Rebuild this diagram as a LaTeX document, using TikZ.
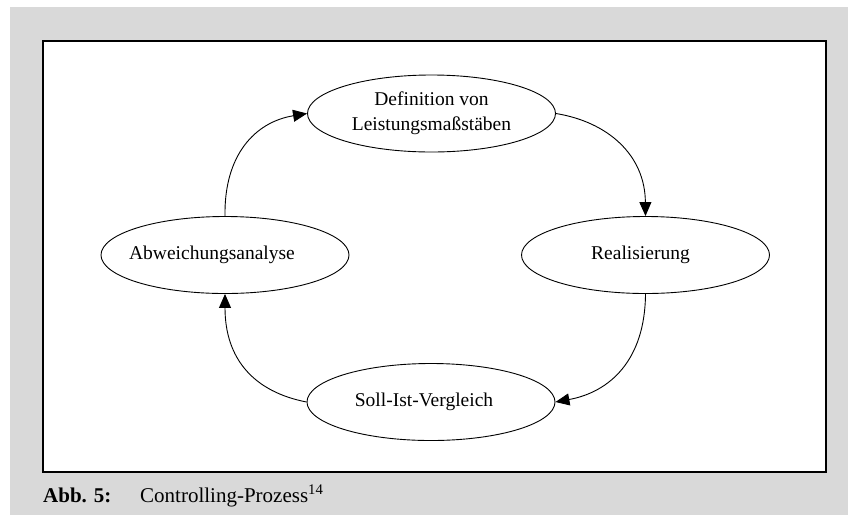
\documentclass[tikz,border=0pt]{standalone}
\usepackage{fontspec}
\setmainfont{Liberation Serif}
\usetikzlibrary{shapes.geometric,arrows.meta}
\definecolor{bggray}{RGB}{217,217,217}
\newcommand{\tshift}[2]{\hspace*{#1}#2}
\begin{document}
\begin{tikzpicture}[x=1pt,y=-1pt,
  proc/.style={draw=black,line width=0.9pt,ellipse,minimum width=248pt,minimum height=77pt,
    inner sep=0pt,font=\fontsize{19.5}{25}\selectfont,fill=white},
  flow/.style={line width=0.9pt,-{Triangle[length=14pt,width=12pt]}},
  captext/.style={anchor=base west,inner sep=0pt,font=\fontsize{21}{25}\selectfont}]
\useasboundingbox (0,0) rectangle (848,515);
\fill[bggray] (10,7) rectangle (848,515);
\draw[line width=1.8pt,fill=white] (43,41) rectangle (826,472);
\node[proc,align=center] (def) at (431.5,113.5) {Definition von\\Leistungsmaßstäben};
\node[proc] (real) at (645.5,255) {\tshift{-10pt}{Realisierung}};
\node[proc] (soll) at (431,402) {\tshift{-14pt}{Soll-Ist-Vergleich}};
\node[proc] (abw) at (225,255) {\tshift{-26pt}{Abweichungsanalyse}};
\draw[flow] (abw.north) .. controls (224,155) and (255,122) .. (def.west);
\draw[flow] (def.east) .. controls (608,122) and (645,155) .. (real.north);
\draw[flow] (real.south) .. controls (645,360) and (610,392) .. (soll.east);
\draw[flow] (soll.west) .. controls (255,392) and (225,360) .. (abw.south);
\node[captext] (abb) at (43,502) {\bfseries Abb. 5:};
\node[captext] (title) at (140,502) {Controlling-Prozess\textsuperscript{14}};
\end{tikzpicture}
\end{document}
